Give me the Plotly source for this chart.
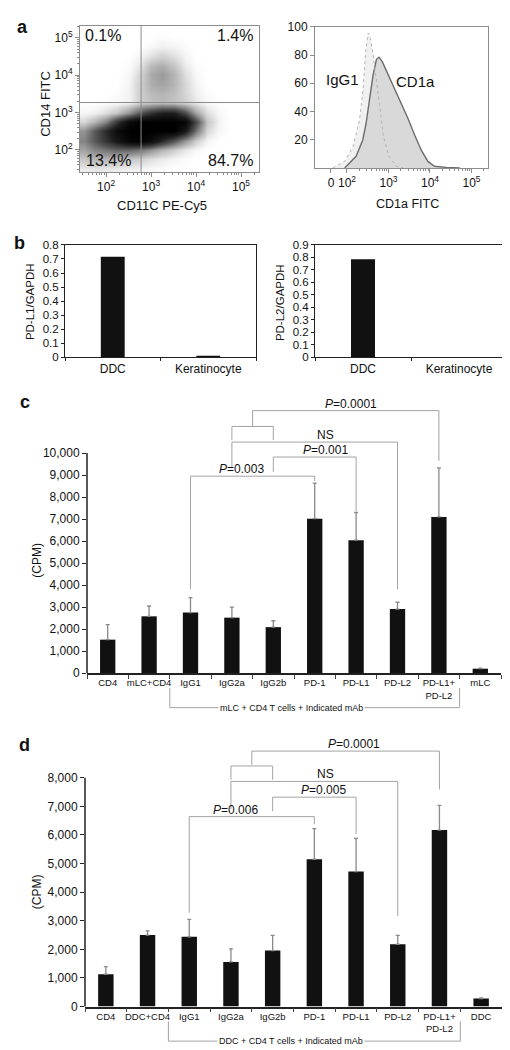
import math
import plotly.graph_objects as go

W, H = 510, 1050
FONT = "Liberation Sans, Arial, Helvetica, sans-serif"

# ---------------- DATA ----------------
# Panel a (left): flow cytometry density, log10 units
dens_x = [1.5, 1.75, 2.0, 2.25, 2.5, 2.75, 3.0, 3.25, 3.5, 3.75, 4.0, 4.25, 4.5, 4.75, 5.0, 5.25]
dens_y = [1.5, 1.75, 2.0, 2.25, 2.5, 2.75, 3.0, 3.25, 3.5, 3.75, 4.0, 4.25, 4.5, 4.75, 5.0, 5.25]
dens_z = [
    [0.5, 0.6, 0.6, 0.5, 0.4, 0.3, 0.2, 0.1, 0, 0, 0, 0, 0, 0, 0, 0],
    [1.5, 2.0, 2.0, 1.8, 1.5, 1.2, 0.8, 0.5, 0.3, 0.1, 0, 0, 0, 0, 0, 0],
    [2.5, 3.5, 4.0, 4.5, 4.5, 4.0, 3.0, 2.0, 1.2, 0.6, 0.2, 0, 0, 0, 0, 0],
    [3.5, 5.0, 6.5, 8.0, 9.5, 10, 9.0, 7.0, 5.0, 3.0, 1.2, 0.3, 0, 0, 0, 0],
    [3.0, 5.0, 7.0, 9.0, 10, 10, 10, 10, 10, 8.0, 4.0, 1.0, 0.2, 0, 0, 0],
    [1.0, 2.0, 3.5, 6.5, 9.0, 10, 10, 10, 10, 9.5, 5.5, 1.5, 0.3, 0, 0, 0],
    [0.2, 0.4, 0.8, 1.5, 3.0, 5.0, 6.5, 7.5, 7.5, 5.5, 2.5, 0.8, 0.2, 0, 0, 0],
    [0, 0, 0.1, 0.2, 0.4, 1.2, 1.6, 1.8, 1.6, 1.2, 0.6, 0.2, 0, 0, 0, 0],
    [0, 0, 0, 0.1, 0.3, 1.2, 1.8, 2.0, 1.7, 1.0, 0.4, 0.1, 0, 0, 0, 0],
    [0, 0, 0, 0, 0.3, 1.2, 2.2, 2.5, 2.0, 1.0, 0.3, 0, 0, 0, 0, 0],
    [0, 0, 0, 0, 0.2, 1.0, 2.3, 2.8, 2.0, 0.8, 0.2, 0, 0, 0, 0, 0],
    [0, 0, 0, 0, 0.1, 0.6, 1.8, 2.2, 1.5, 0.5, 0.1, 0, 0, 0, 0, 0],
    [0, 0, 0, 0, 0, 0.3, 0.8, 1.2, 0.8, 0.3, 0, 0, 0, 0, 0, 0],
    [0, 0, 0, 0, 0, 0, 0.2, 0.4, 0.3, 0.1, 0, 0, 0, 0, 0, 0],
    [0, 0, 0, 0, 0, 0, 0, 0.1, 0, 0, 0, 0, 0, 0, 0, 0],
    [0, 0, 0, 0, 0, 0, 0, 0, 0, 0, 0, 0, 0, 0, 0, 0],
]
gate_cd11c = 600
gate_cd14 = 1850
quad_text = ["0.1%", "1.4%", "13.4%", "84.7%"]

# Panel a (right): histograms (x in log10 FITC units, y = % of max)
igg1_x = [1.66, 1.945, 2.145, 2.30, 2.385, 2.45, 2.51, 2.56, 2.63, 2.71, 2.79, 2.88, 3.01, 3.19, 3.35]
igg1_y = [0, 4.7, 15, 33.8, 54.8, 82.7, 95.6, 92, 80.4, 61.7, 40.8, 22.1, 8.2, 1.2, 0]
cd1a_x = [1.945, 2.22, 2.38, 2.46, 2.55, 2.63, 2.71, 2.77, 2.85, 2.99, 3.15, 3.31, 3.47, 3.63, 3.79, 3.95, 4.11, 4.39, 4.72]
cd1a_y = [0, 8.2, 19.8, 31.5, 50, 66, 77, 78.5, 75.3, 66.4, 56, 45.5, 35, 23.3, 12.6, 4.6, 1.2, 0.4, 0]

# Panel b
b_cats = ["DDC", "Keratinocyte"]
pdl1_gapdh = [0.715, 0.012]
pdl2_gapdh = [0.785, 0.002]

# Panel c
c_cats = ["CD4", "mLC+CD4", "IgG1", "IgG2a", "IgG2b", "PD-1", "PD-L1", "PD-L2", "PD-L1+<br>PD-L2", "mLC"]
c_vals = [1520, 2580, 2750, 2520, 2090, 7020, 6040, 2910, 7100, 200]
c_err_top = [2200, 3050, 3430, 3000, 2380, 8630, 7300, 3220, 9330, 230]
c_ticks = [0, 1000, 2000, 3000, 4000, 5000, 6000, 7000, 8000, 9000, 10000]
# brackets: left idx, right idx, top level, left foot, right foot, label, label x
c_br_left = [2, 4, 3, 3, 3.5]
c_br_right = [5, 6, 7, 4, 8]
c_br_top = [8950, 9820, 10500, 11210, 11930]
c_br_footl = [3810, 9150, 9300, 10600, 11210]
c_br_footr = [8720, 7350, 3810, 10600, 9650]
c_br_label = ["<i>P</i>=0.003", "<i>P</i>=0.001", "NS", "", "<i>P</i>=0.0001"]
c_br_labx = [3.22, 5.25, 5.25, None, 5.88]
c_group = "mLC + CD4 T cells + Indicated mAb"

# Panel d
d_cats = ["CD4", "DDC+CD4", "IgG1", "IgG2a", "IgG2b", "PD-1", "PD-L1", "PD-L2", "PD-L1+<br>PD-L2", "DDC"]
d_vals = [1130, 2500, 2440, 1560, 1960, 5150, 4720, 2180, 6170, 280]
d_err_top = [1400, 2650, 3050, 2020, 2490, 6220, 5880, 2490, 7030, 300]
d_ticks = [0, 1000, 2000, 3000, 4000, 5000, 6000, 7000, 8000]
d_br_left = [2, 4, 3, 3, 3.5]
d_br_right = [5, 6, 7, 4, 8]
d_br_top = [6640, 7320, 7870, 8410, 8930]
d_br_footl = [3280, 6830, 6900, 7930, 8450]
d_br_footr = [6380, 6030, 3170, 7930, 7590]
d_br_label = ["<i>P</i>=0.006", "<i>P</i>=0.005", "NS", "", "<i>P</i>=0.0001"]
d_br_labx = [3.12, 5.21, 5.26, None, 5.95]
d_group = "DDC + CD4 T cells + Indicated mAb"

# ---------------- LAYOUT HELPERS ----------------
def fx(px):
    return px / W

def fy(py):
    return 1 - py / H

def sup(d):
    return "10<sup>%d</sup>" % d

BR_COLOR = "#a3a3a3"

fig = go.Figure()

# ---- panel a left: density ----
fig.add_trace(go.Heatmap(
    x=dens_x, y=dens_y, z=dens_z, zmin=0, zmax=10, zsmooth="best",
    colorscale=[[0, "#ffffff"], [0.03, "#f4f4f4"], [0.1, "#d6d6d6"], [0.25, "#a4a4a4"],
                [0.5, "#565656"], [0.75, "#1e1e1e"], [1, "#000000"]],
    showscale=False, hoverinfo="skip", xaxis="x", yaxis="y"))

# ---- panel a right: histograms ----
fig.add_trace(go.Scatter(x=igg1_x, y=igg1_y, mode="lines", fill="tozeroy",
                         fillcolor="#f0f0f0", line=dict(width=0, color="#f0f0f0"),
                         xaxis="x2", yaxis="y2", hoverinfo="skip", showlegend=False))
fig.add_trace(go.Scatter(x=cd1a_x, y=cd1a_y, mode="lines", fill="tozeroy",
                         fillcolor="#d9d9d9", line=dict(width=1.4, color="#6c6c6c"),
                         xaxis="x2", yaxis="y2", hoverinfo="skip", showlegend=False))
fig.add_trace(go.Scatter(x=igg1_x, y=igg1_y, mode="lines",
                         line=dict(width=1, color="#b4b4b4", dash="dot"),
                         xaxis="x2", yaxis="y2", hoverinfo="skip", showlegend=False))

# ---- panel b ----
fig.add_trace(go.Bar(x=b_cats, y=pdl1_gapdh, width=0.25, marker=dict(color="#111111", line=dict(width=0)),
                     xaxis="x3", yaxis="y3", showlegend=False))
fig.add_trace(go.Bar(x=b_cats, y=pdl2_gapdh, width=0.25, marker=dict(color="#111111", line=dict(width=0)),
                     xaxis="x4", yaxis="y4", showlegend=False))

# ---- panel c / d ----
def errbar(vals, tops):
    return dict(type="data", symmetric=False, array=[t - v for v, t in zip(vals, tops)],
                arrayminus=[0] * len(vals), color="#8a8a8a", thickness=1.3, width=2)

fig.add_trace(go.Bar(x=c_cats, y=c_vals, width=0.37, marker=dict(color="#111111", line=dict(width=0)),
                     error_y=errbar(c_vals, c_err_top), xaxis="x5", yaxis="y5", showlegend=False))
fig.add_trace(go.Bar(x=d_cats, y=d_vals, width=0.37, marker=dict(color="#111111", line=dict(width=0)),
                     error_y=errbar(d_vals, d_err_top), xaxis="x6", yaxis="y6", showlegend=False))

# ---- axes ----
minor_a = [math.log10(k * 10 ** d) for d in range(1, 6) for k in range(2, 10)]
minor_sc_x = [v for v in minor_a if 1.42 < v < 5.4]
minor_sc_y = [v for v in minor_a if 1.41 < v < 5.32]
minor_h = [v for v in minor_a if 2.0 < v < 5.39]

tickf = dict(family=FONT, size=12, color="#111")

def box_axis(**kw):
    d = dict(showline=True, mirror=True, linecolor="#8c8c8c", linewidth=1, ticks="outside",
             ticklen=4, tickcolor="#8c8c8c", showgrid=False, zeroline=False, tickfont=tickf,
             tickangle=0)
    d.update(kw)
    return d

# c/d geometry
c_top_px, c_bot_px, c_ymax = 388.25, 667, 12500
d_top_px, d_bot_px, d_ymax = 730.1, 1005, 9480
c_h = c_bot_px - c_top_px
d_h = d_bot_px - d_top_px

def cat_axis(dom, anchor):
    return dict(domain=dom, anchor=anchor, type="category", tickson="boundaries",
                range=[-0.5, 9.5], showline=True, linecolor="#222", linewidth=1.5, ticks="outside",
                ticklen=4, tickcolor="#444", showgrid=False, zeroline=False, tickangle=0,
                tickfont=dict(family=FONT, size=9.5, color="#111"))

layout = dict(
    width=W, height=H, margin=dict(l=0, r=0, t=0, b=0),
    paper_bgcolor="white", plot_bgcolor="white", showlegend=False,
    font=dict(family=FONT, color="#111"),
    xaxis=box_axis(domain=[fx(72), fx(251)], range=[1.42, 5.4], anchor="y",
                   tickmode="array", tickvals=[2, 3, 4, 5], ticktext=[sup(d) for d in [2, 3, 4, 5]],
                   minor=dict(tickmode="array", tickvals=minor_sc_x, ticks="outside", ticklen=2, tickcolor="#8c8c8c")),
    yaxis=box_axis(domain=[fy(159), fy(11)], range=[1.41, 5.32], anchor="x",
                   tickmode="array", tickvals=[2, 3, 4, 5], ticktext=[sup(d) for d in [2, 3, 4, 5]],
                   minor=dict(tickmode="array", tickvals=minor_sc_y, ticks="outside", ticklen=2, tickcolor="#8c8c8c")),
    xaxis2=box_axis(domain=[fx(307), fx(480)], range=[1.229, 5.398], anchor="y2",
                    tickmode="array", tickvals=[1.614, 2, 3, 4, 5], ticktext=["0"] + [sup(d) for d in [2, 3, 4, 5]],
                    minor=dict(tickmode="array", tickvals=minor_h, ticks="outside", ticklen=2, tickcolor="#8c8c8c")),
    yaxis2=box_axis(domain=[fy(155), fy(12)], range=[0, 100], anchor="x2",
                    tickmode="array", tickvals=[20, 40, 60, 80, 100]),
    xaxis3=box_axis(domain=[fx(57), fx(248)], anchor="y3", type="category", tickson="boundaries",
                    linecolor="#222", tickcolor="#222", ticklen=3, range=[-0.5, 1.5]),
    yaxis3=box_axis(domain=[fy(347), fy(233)], range=[0, 0.8], dtick=0.1, anchor="x3",
                    linecolor="#222", tickcolor="#222", ticklen=3,
                    tickfont=dict(family=FONT, size=11.5, color="#111")),
    xaxis4=box_axis(domain=[fx(307), fx(499)], anchor="y4", type="category", tickson="boundaries",
                    linecolor="#222", tickcolor="#222", ticklen=3, range=[-0.5, 1.5]),
    yaxis4=box_axis(domain=[fy(347), fy(233)], range=[0, 0.9], dtick=0.1, anchor="x4",
                    linecolor="#222", tickcolor="#222", ticklen=3,
                    tickfont=dict(family=FONT, size=11.5, color="#111")),
    xaxis5=cat_axis([fx(79), fx(493)], "y5"),
    yaxis5=dict(domain=[fy(c_bot_px), fy(c_top_px)], anchor="x5", range=[0, c_ymax],
                tickmode="array", tickvals=c_ticks, ticktext=["{:,}".format(v) for v in c_ticks],
                showline=False, ticks="outside", ticklen=4, tickcolor="#222", tickwidth=1.2,
                showgrid=False, zeroline=False, tickfont=tickf),
    xaxis6=cat_axis([fx(77), fx(494)], "y6"),
    yaxis6=dict(domain=[fy(d_bot_px), fy(d_top_px)], anchor="x6", range=[0, d_ymax],
                tickmode="array", tickvals=d_ticks, ticktext=["{:,}".format(v) for v in d_ticks],
                showline=False, ticks="outside", ticklen=4, tickcolor="#222", tickwidth=1.2,
                showgrid=False, zeroline=False, tickfont=tickf),
)
fig.update_layout(**layout)

shapes = []
ann = []

def text_ann(x, y, text, size, xref="paper", yref="paper", xanchor="center", yanchor="middle",
             angle=0, bold=False, **kw):
    t = "<b>%s</b>" % text if bold else text
    d = dict(x=x, y=y, xref=xref, yref=yref, text=t, showarrow=False, xanchor=xanchor,
             yanchor=yanchor, textangle=angle, font=dict(family=FONT, size=size, color="#111"))
    d.update(kw)
    ann.append(d)

# panel letters
text_ann(fx(14), fy(12), "a", 18, bold=True)
text_ann(fx(11), fy(231), "b", 18, bold=True)
text_ann(fx(17), fy(392), "c", 18, bold=True)
text_ann(fx(16), fy(740), "d", 18, bold=True)

# panel a left: gates + quadrant labels + titles
shapes.append(dict(type="line", xref="x", yref="y domain", x0=math.log10(gate_cd11c), x1=math.log10(gate_cd11c),
                   y0=0, y1=1, line=dict(color="#8c8c8c", width=1)))
shapes.append(dict(type="line", xref="x domain", yref="y", x0=0, x1=1, y0=math.log10(gate_cd14),
                   y1=math.log10(gate_cd14), line=dict(color="#8c8c8c", width=1)))
text_ann(0.017, 0.932, quad_text[0], 16, xref="x domain", yref="y domain", xanchor="left")
text_ann(0.978, 0.932, quad_text[1], 16, xref="x domain", yref="y domain", xanchor="right")
text_ann(0.025, 0.081, quad_text[2], 16, xref="x domain", yref="y domain", xanchor="left")
text_ann(0.978, 0.081, quad_text[3], 16, xref="x domain", yref="y domain", xanchor="right")
text_ann(fx(154), fy(193), "CD11C PE-Cy5", 13)
text_ann(fx(38), fy(90), "CD14 FITC", 13, angle=-90)

# panel a right labels
text_ann(1.88, 63, "IgG1", 15, xref="x2", yref="y2")
text_ann(3.66, 61.5, "CD1a", 15, xref="x2", yref="y2")
text_ann(fx(399), fy(192), "CD1a FITC", 12.5)

# panel b titles
text_ann(fx(22), fy(291), "PD-L1/GAPDH", 11.5, angle=-90)
text_ann(fx(272), fy(292), "PD-L2/GAPDH", 11.5, angle=-90)

# panel c / d
def panel_cd(xa, ya, ymax, hpx, ticks, left, right, top, footl, footr, labels, labx, group, ytitle_py):
    # y axis line up to last tick
    shapes.append(dict(type="line", xref=xa + " domain", yref=ya + " domain", x0=0, x1=0,
                       y0=0, y1=ticks[-1] / ymax, line=dict(color="#222", width=1.5)))
    for i in range(len(left)):
        for (x0, y0, x1, y1) in [(left[i], footl[i], left[i], top[i]),
                                 (left[i], top[i], right[i], top[i]),
                                 (right[i], top[i], right[i], footr[i])]:
            shapes.append(dict(type="line", xref=xa, yref=ya, x0=x0, x1=x1, y0=y0, y1=y1,
                               line=dict(color=BR_COLOR, width=1)))
        if labels[i]:
            text_ann(labx[i], top[i], labels[i], 12, xref=xa, yref=ya, yanchor="bottom", yshift=-2)
    # group bracket under the axis
    gy = -35 / hpx
    gy0 = -15 / hpx
    gl, gr = (1.5 + 0.5) / 10, (8.5 + 0.5) / 10
    for (x0, y0, x1, y1) in [(gl, gy0, gl, gy), (gl, gy, gr, gy), (gr, gy, gr, gy0)]:
        shapes.append(dict(type="line", xref=xa + " domain", yref=ya + " domain", x0=x0, x1=x1,
                           y0=y0, y1=y1, line=dict(color=BR_COLOR, width=1)))
    text_ann(0.493, gy, group, 9, xref=xa + " domain", yref=ya + " domain", bgcolor="white", borderpad=1)
    text_ann(fx(29), fy(ytitle_py), "(CPM)", 12, angle=-90)

panel_cd("x5", "y5", c_ymax, c_h, c_ticks, c_br_left, c_br_right, c_br_top, c_br_footl, c_br_footr,
         c_br_label, c_br_labx, c_group, 553)
panel_cd("x6", "y6", d_ymax, d_h, d_ticks, d_br_left, d_br_right, d_br_top, d_br_footl, d_br_footr,
         d_br_label, d_br_labx, d_group, 889)

fig.update_layout(shapes=shapes, annotations=ann)
fig.write_html("out.html")
